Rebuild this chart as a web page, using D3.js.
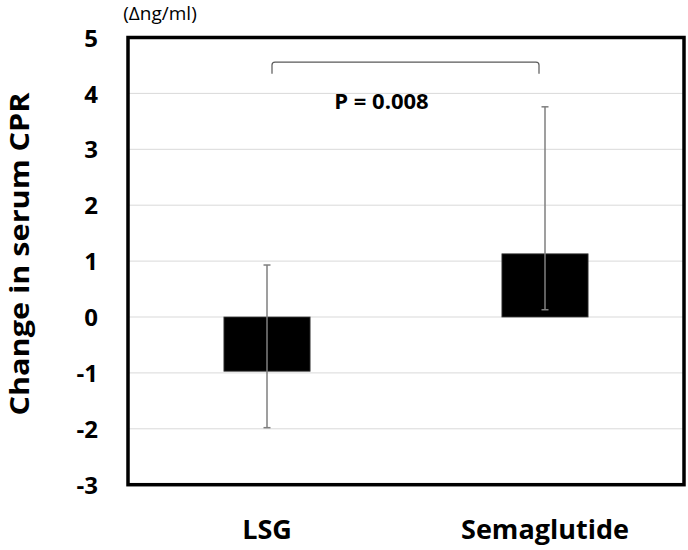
<!DOCTYPE html>
<html>
<head>
<meta charset="utf-8">
<script src="https://cdn.jsdelivr.net/npm/d3@7"></script>
<style>
  html, body { margin: 0; padding: 0; background: #fff; }
  svg { display: block; }
  text { font-family: "Open Sans", "DejaVu Sans", sans-serif; }
</style>
</head>
<body>
<div id="chart"></div>
<script>
// ---- data ----
const categories = ["LSG", "Semaglutide"];
const values = [-0.97, 1.13];
const errLow = [-1.98, 0.13];
const errHigh = [0.93, 3.76];
const yTicks = [-3, -2, -1, 0, 1, 2, 3, 4, 5];
const yDomain = [-3, 5];
const yTitle = "Change in serum CPR";
const unitLabel = "(\u0394ng/ml)";
const pLabel = "P = 0.008";
const bracketTop = 4.56;
const bracketBottom = 4.35;
const pLabelValue = 3.72;

// ---- layout ----
const W = 688, H = 550;
const mLeft = 128, mRight = 684, mTop = 37.5, mBottom = 484.7;

const svg = d3.select("#chart").append("svg")
  .attr("width", W).attr("height", H);

const x = d3.scaleBand().domain(categories).range([mLeft, mRight])
  .paddingInner(0.69).paddingOuter(0.345);
const y = d3.scaleLinear().domain(yDomain).range([mBottom, mTop]);

// gridlines
svg.append("g")
  .selectAll("line").data(yTicks.filter(d => d !== yDomain[0] && d !== yDomain[1]))
  .join("line")
  .attr("x1", mLeft).attr("x2", mRight)
  .attr("y1", d => y(d)).attr("y2", d => y(d))
  .attr("stroke", "#d9d9d9").attr("stroke-width", 1);

// y axis tick labels
const yAxis = d3.axisLeft(y).tickValues(yTicks).tickSize(0).tickPadding(30).tickFormat(d => String(d));
const gy = svg.append("g").attr("transform", `translate(${mLeft},0)`).call(yAxis);
gy.select(".domain").remove();
gy.selectAll("text")
  .attr("font-family", "'Open Sans', sans-serif")
  .attr("font-size", 24).attr("font-weight", "bold").attr("fill", "#000")
  .attr("dy", "0.36em");

// bars
svg.append("g").selectAll("rect").data(categories)
  .join("rect")
  .attr("x", d => x(d))
  .attr("width", x.bandwidth())
  .attr("y", (d, i) => y(Math.max(0, values[i])))
  .attr("height", (d, i) => Math.abs(y(values[i]) - y(0)))
  .attr("fill", "#000")
  .attr("stroke", "#404040").attr("stroke-width", 0.8);

// error bars
const eb = svg.append("g").attr("stroke", "#7f7f7f").attr("stroke-width", 1.5);
categories.forEach((c, i) => {
  const cx = x(c) + x.bandwidth() / 2;
  eb.append("line").attr("x1", cx).attr("x2", cx)
    .attr("y1", y(errLow[i])).attr("y2", y(errHigh[i]));
  [errLow[i], errHigh[i]].forEach(v => {
    eb.append("line").attr("x1", cx - 3.5).attr("x2", cx + 3.5)
      .attr("y1", y(v)).attr("y2", y(v));
  });
});

// frame
svg.append("rect")
  .attr("x", mLeft).attr("y", mTop)
  .attr("width", mRight - mLeft).attr("height", mBottom - mTop)
  .attr("fill", "none").attr("stroke", "#000").attr("stroke-width", 3.5);

// bracket
const bx1 = x(categories[0]) + x.bandwidth() / 2 + 5;
const bx2 = x(categories[1]) + x.bandwidth() / 2 - 6;
const by1 = y(bracketTop), by2 = y(bracketBottom), r = 3;
svg.append("path")
  .attr("d", `M${bx1},${by2} L${bx1},${by1 + r} Q${bx1},${by1} ${bx1 + r},${by1} L${bx2 - r},${by1} Q${bx2},${by1} ${bx2},${by1 + r} L${bx2},${by2}`)
  .attr("fill", "none").attr("stroke", "#595959").attr("stroke-width", 1.2);

svg.append("text")
  .attr("x", 381.5).attr("y", y(pLabelValue))
  .attr("text-anchor", "middle")
  .attr("font-size", 22).attr("font-weight", "bold").attr("fill", "#000")
  .text(pLabel);

// category labels
svg.append("g").selectAll("text").data(categories)
  .join("text")
  .attr("x", d => x(d) + x.bandwidth() / 2)
  .attr("y", 539)
  .attr("text-anchor", "middle")
  .attr("font-size", 27).attr("font-weight", "bold").attr("fill", "#000")
  .text(d => d);

// y title
svg.append("text")
  .attr("transform", `translate(29,254) rotate(-90)`)
  .attr("text-anchor", "middle")
  .attr("font-size", 27).attr("font-weight", "bold").attr("fill", "#000")
  .attr("textLength", 323).attr("lengthAdjust", "spacingAndGlyphs")
  .text(yTitle);

// unit label
svg.append("text")
  .attr("x", 160).attr("y", 20)
  .attr("text-anchor", "middle")
  .attr("font-size", 19).attr("fill", "#000")
  .text(unitLabel);
</script>
</body>
</html>
